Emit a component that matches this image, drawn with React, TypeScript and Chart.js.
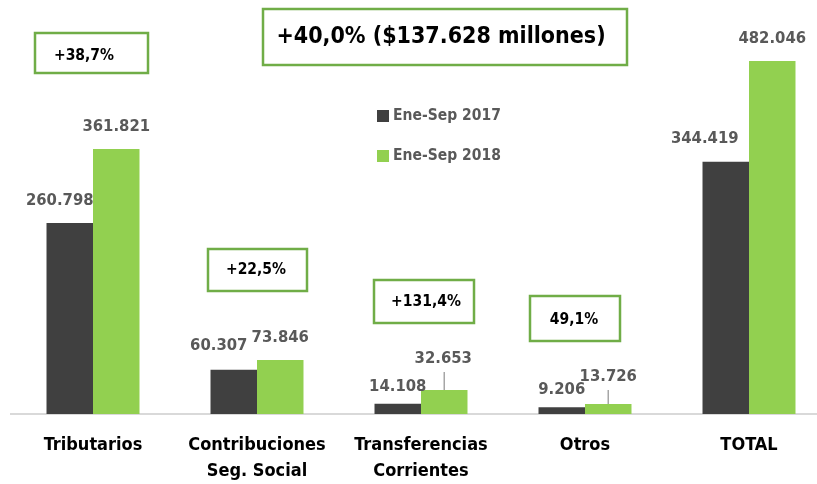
import React, { useEffect, useRef } from "react";
import { Chart, registerables } from "chart.js";

Chart.register(...registerables);

// ---------- data ----------
const categories: string[][] = [
  ["Tributarios"],
  ["Contribuciones", "Seg. Social"],
  ["Transferencias", "Corrientes"],
  ["Otros"],
  ["TOTAL"],
];
const seriesNames = ["Ene-Sep 2017", "Ene-Sep 2018"];
const values2017 = [260798, 60307, 14108, 9206, 344419];
const values2018 = [361821, 73846, 32653, 13726, 482046];
const growthLabels = ["+38,7%", "+22,5%", "+131,4%", "49,1%"];
const headline = "+40,0% ($137.628 millones)";

// ---------- styling / placement ----------
const FONT = "'DejaVu Sans Condensed', 'DejaVu Sans', sans-serif";
const COLORS = ["#404040", "#92D050"];
const BOX_BORDER = "#70AD47";
const LABEL_COLOR = "#595959";

// label offset from the top-centre of each bar: [dx, dy]
const labelOffsets: number[][][] = [
  [[-10, -22], [-15, -24], [0, -17], [0, -18], [-21, -23]],
  [[0, -22], [0, -22], [-1, -31], [0, -27], [0, -22]],
];
const leaderLines: boolean[][] = [
  [false, false, false, false, false],
  [false, false, true, true, false],
];

// boxes: [left, top, width, height, textCx, textCy, fontSize]
const growthBoxes: number[][] = [
  [35, 33, 113, 40, 84, 56, 15.5],
  [208, 249, 99, 42, 256, 270, 15.5],
  [374, 280, 100, 43, 426, 302, 15.5],
  [530, 296, 90, 45, 574, 320, 15.5],
];
const headlineBox = [263, 9, 364, 56, 441, 37, 23];

function fmt(v: number): string {
  return String(v).replace(/\B(?=(\d{3})+(?!\d))/g, ".");
}

const annotationPlugin = {
  id: "annotations",
  afterDatasetsDraw(chart: any) {
    const ctx: CanvasRenderingContext2D = chart.ctx;
    ctx.save();
    ctx.textAlign = "center";
    ctx.textBaseline = "middle";

    // value labels
    chart.data.datasets.forEach((ds: any, di: number) => {
      const meta = chart.getDatasetMeta(di);
      meta.data.forEach((bar: any, i: number) => {
        const [dx, dy] = labelOffsets[di][i];
        const x = bar.x + dx;
        const y = bar.y + dy;
        ctx.font = `bold 16.5px ${FONT}`;
        ctx.fillStyle = LABEL_COLOR;
        ctx.fillText(fmt(ds.data[i]), x, y);
        if (leaderLines[di][i]) {
          ctx.strokeStyle = "#A6A6A6";
          ctx.lineWidth = 1.5;
          ctx.beginPath();
          ctx.moveTo(bar.x, y + 13);
          ctx.lineTo(bar.x, bar.y);
          ctx.stroke();
        }
      });
    });

    // boxes
    const drawBox = (b: number[], text: string) => {
      const [l, t, w, h, tx, ty, fs] = b;
      ctx.fillStyle = "#FFFFFF";
      ctx.fillRect(l, t, w, h);
      ctx.strokeStyle = BOX_BORDER;
      ctx.lineWidth = 2.5;
      ctx.strokeRect(l, t, w, h);
      ctx.fillStyle = "#000000";
      ctx.textAlign = "center";
      ctx.font = `bold ${fs}px ${FONT}`;
      ctx.fillText(text, tx, ty);
    };
    growthLabels.forEach((txt, i) => drawBox(growthBoxes[i], txt));
    drawBox(headlineBox, headline);

    // legend
    const legendX = 377;
    const legendY = [116, 156];
    chart.data.datasets.forEach((ds: any, di: number) => {
      const cy = legendY[di];
      ctx.fillStyle = ds.backgroundColor;
      ctx.fillRect(legendX, cy - 6, 12, 12);
      ctx.fillStyle = LABEL_COLOR;
      ctx.textAlign = "left";
      ctx.font = `bold 15.5px ${FONT}`;
      ctx.fillText(ds.label, legendX + 16, cy);
    });
    ctx.restore();
  },
};

export default function App() {
  const canvasRef = useRef<HTMLCanvasElement | null>(null);

  useEffect(() => {
    document.body.style.margin = "0";
    document.body.style.overflow = "hidden";
    const canvas = canvasRef.current;
    if (!canvas) return;
    const chart = new Chart(canvas, {
      type: "bar",
      data: {
        labels: categories,
        datasets: [
          {
            label: seriesNames[0],
            data: values2017,
            backgroundColor: COLORS[0],
            barPercentage: 1,
            categoryPercentage: 0.567,
          },
          {
            label: seriesNames[1],
            data: values2018,
            backgroundColor: COLORS[1],
            barPercentage: 1,
            categoryPercentage: 0.567,
          },
        ],
      },
      options: {
        responsive: false,
        animation: false,
        devicePixelRatio: 1,
        layout: { padding: { left: 11, right: 9, top: 0, bottom: 0 } },
        plugins: {
          legend: { display: false },
          tooltip: { enabled: false },
          title: { display: false },
        },
        scales: {
          x: {
            type: "category",
            offset: true,
            grid: { display: false, drawTicks: false },
            border: { display: true, color: "#D9D9D9", width: 2 },
            ticks: {
              color: "#000000",
              padding: 18,
              autoSkip: false,
              maxRotation: 0,
              font: { family: FONT, size: 18, weight: "bold", lineHeight: 1.44 },
            },
            afterFit: (scale: any) => {
              scale.height = 70;
            },
          },
          y: {
            display: false,
            min: 0,
            max: 565500,
          },
        },
      },
      plugins: [annotationPlugin],
    });
    return () => chart.destroy();
  }, []);

  return (
    <div
      style={{
        position: "fixed",
        left: 0,
        top: 0,
        width: 817,
        height: 484,
        overflow: "hidden",
        background: "#FFFFFF",
      }}
    >
      <canvas ref={canvasRef} width={840} height={484} style={{ display: "block" }} />
    </div>
  );
}
